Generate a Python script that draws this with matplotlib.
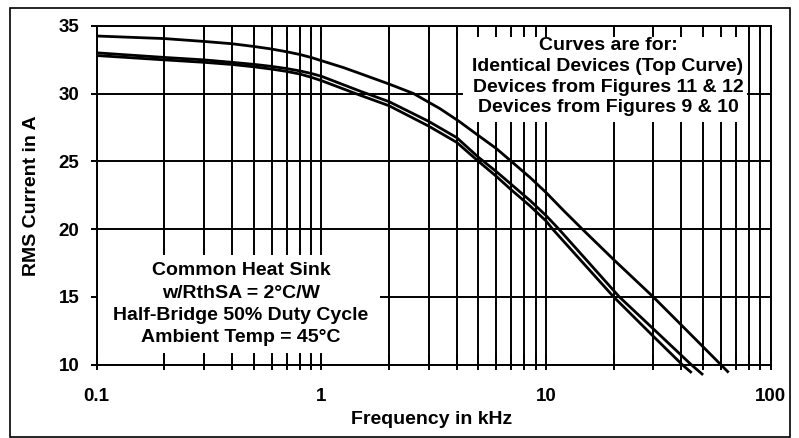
"""
RMS current vs switching frequency for three device pairings
"""
import matplotlib
matplotlib.use("Agg")
import matplotlib.pyplot as plt
from matplotlib import ticker
from matplotlib.patches import Rectangle

plt.rcParams["font.family"] = ["Liberation Sans", "DejaVu Sans"]
plt.rcParams["font.weight"] = "bold"

# curves (frequency in kHz, current in A)
FREQ_TOP = [0.1, 0.2, 0.3, 0.4, 0.5, 0.6, 0.7, 0.8, 0.9, 1.0, 1.25, 1.5,
            2.0, 2.57, 3.0, 3.36, 4.1, 5.0, 6.0, 7.0, 8.5, 10.0, 12.0,
            14.5, 20.0, 30.0, 40.0, 50.0, 60.0, 65.0]
AMPS_TOP = [34.24, 34.05, 33.84, 33.67, 33.47, 33.28, 33.08, 32.88, 32.66,
            32.42, 31.92, 31.45, 30.7, 30.0, 29.36, 28.9, 27.95, 26.9,
            25.95, 25.0, 23.8, 22.7, 21.35, 20.0, 17.75, 15.0, 12.93,
            11.32, 10.0, 9.42]

FREQ_MID = [0.1, 0.2, 0.3, 0.4, 0.5, 0.6, 0.7, 0.8, 0.9, 1.0, 1.5, 2.0,
            3.0, 4.0, 5.0, 6.0, 7.0, 8.5, 10.0, 11.4, 15.0, 21.2, 30.0,
            44.3, 50.0]
AMPS_MID = [33.0, 32.66, 32.48, 32.3, 32.15, 32.0, 31.84, 31.67, 31.48,
            31.27, 30.15, 29.4, 27.95, 26.75, 25.3, 24.25, 23.3, 22.1,
            21.0, 20.0, 17.79, 15.0, 12.65, 10.0, 9.25]

FREQ_LOW = [0.1, 0.2, 0.3, 0.4, 0.5, 0.6, 0.7, 0.8, 0.9, 1.0, 1.5, 2.0,
            3.0, 4.0, 5.0, 6.0, 7.0, 8.5, 10.0, 10.7, 15.0, 20.0, 30.0,
            40.4, 44.5]
AMPS_LOW = [32.8, 32.48, 32.3, 32.14, 31.97, 31.8, 31.63, 31.44, 31.2,
            30.95, 29.85, 29.1, 27.6, 26.4, 25.0, 23.9, 22.9, 21.7,
            20.6, 20.0, 17.3, 15.0, 12.1, 10.0, 9.4]

X_TICKS = [0.1, 1, 10, 100]
X_LABELS = ["0.1", "1", "10", "100"]
Y_TICKS = [10, 15, 20, 25, 30, 35]

NOTE_CURVES = ("Curves are for:\nIdentical Devices (Top Curve)\n"
               "Devices from Figures 11 & 12\nDevices from Figures 9 & 10")
NOTE_SINK = ("Common Heat Sink\nw/RthSA = 2°C/W\n"
             "Half-Bridge 50% Duty Cycle\nAmbient Temp = 45°C")

W, H = 799, 438
fig = plt.figure(figsize=(W / 100, H / 100), dpi=100)
pos = [96.7 / W, 1 - 364.7 / H, 674 / W, 339 / H]
ax = fig.add_axes(pos)

ax.set_xscale("log")
ax.set_xlim(0.1, 100)
ax.set_ylim(10, 35)

# grid sits under the note boxes
ax.set_axisbelow(True)
ax.xaxis.set_minor_locator(ticker.LogLocator(subs=range(2, 10)))
ax.xaxis.set_minor_formatter(ticker.NullFormatter())
ax.set_xticks(X_TICKS, labels=X_LABELS)
ax.set_yticks(Y_TICKS)
ax.grid(which="both", axis="x", color="black", lw=1.4)
ax.grid(which="major", axis="y", color="black", lw=1.4)
ax.tick_params(which="both", direction="out", color="black", width=1.4,
               labelsize=13.5)
ax.tick_params(axis="x", which="both", length=3.8, pad=13)
ax.tick_params(axis="y", length=4.3, pad=8)
for sp in ax.spines.values():
    sp.set_linewidth(1.4)
    sp.set_zorder(5)

for f, a in [(FREQ_TOP, AMPS_TOP), (FREQ_MID, AMPS_MID), (FREQ_LOW, AMPS_LOW)]:
    ax.plot(f, a, color="black", lw=2.0, clip_on=False, zorder=4,
            solid_capstyle="butt", solid_joinstyle="round")

# white panels behind the two notes
ax.add_patch(Rectangle((0.5435, 0.716), 0.4214, 0.262, transform=ax.transAxes,
                       fc="white", ec="none", zorder=3))
ax.add_patch(Rectangle((0.002, 0.0345), 0.418, 0.289, transform=ax.transAxes,
                       fc="white", ec="none", zorder=3))
ax.text(0.7586, 0.85, NOTE_CURVES, transform=ax.transAxes, ha="center",
        va="center", fontsize=14, linespacing=1.3, zorder=3.5)
ax.text(0.214, 0.1785, NOTE_SINK, transform=ax.transAxes, ha="center",
        va="center", fontsize=14, linespacing=1.4, zorder=3.5)

ax.set_xlabel("Frequency in kHz", fontsize=14, fontweight="bold")
ax.set_ylabel("RMS Current in A", fontsize=14, fontweight="bold")
ax.xaxis.set_label_coords(0.497, -0.138)
ax.yaxis.set_label_coords(-0.084, 0.5)

# inward tick stubs drawn above the note panels
ax2 = fig.add_axes(pos, sharex=ax, sharey=ax, facecolor="none", zorder=2)
ax2.tick_params(which="both", direction="in", width=1.4, labelbottom=False,
                labelleft=False, top=True, left=False)
ax2.tick_params(axis="x", which="both", length=8.2)
for sp in ax2.spines.values():
    sp.set_visible(False)

# outer frame round the whole figure
fig.add_artist(Rectangle((10 / W, 1.5 / H), 780 / W, 428.5 / H,
                         transform=fig.transFigure, fill=False,
                         ec="black", lw=1.2))

fig.savefig("out.png", dpi=100)
